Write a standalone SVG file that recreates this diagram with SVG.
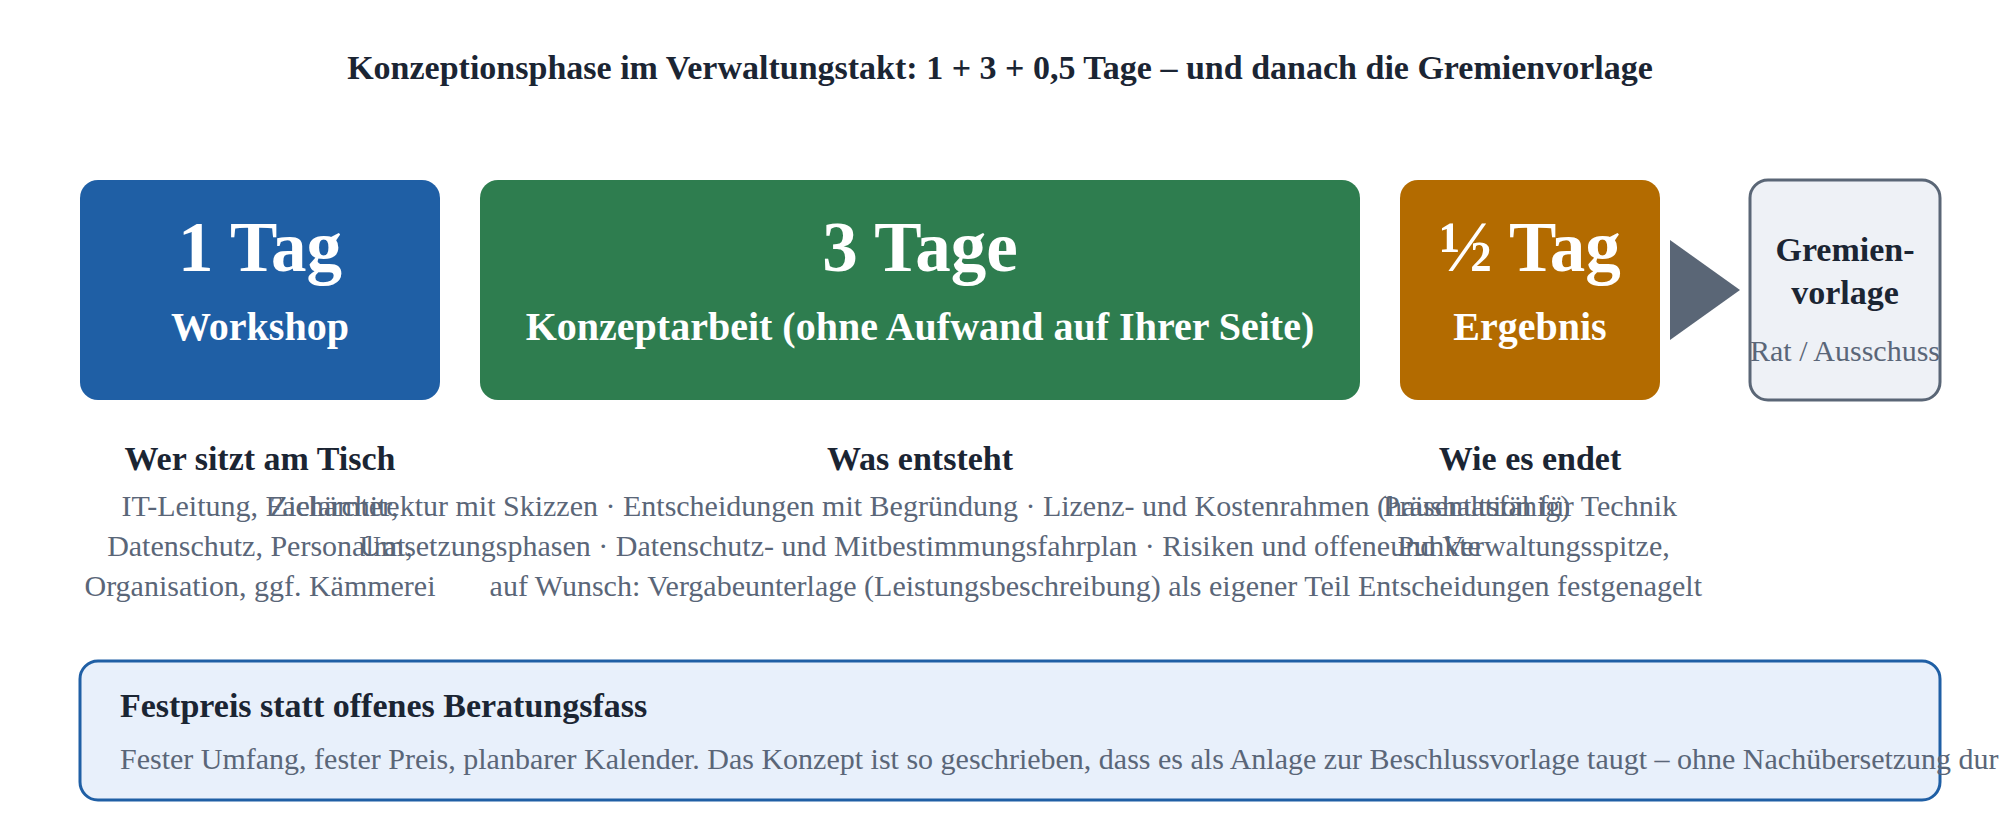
<svg xmlns="http://www.w3.org/2000/svg" width="2000" height="840" viewBox="0 0 2000 840">
<style>
text{font-family:"Liberation Serif","Times New Roman",serif}
.title{font-size:34px;font-weight:bold;fill:#1b2533;text-anchor:middle}
.big{font-size:71px;font-weight:bold;fill:#ffffff;text-anchor:middle}
.sub{font-size:40px;font-weight:bold;fill:#ffffff;text-anchor:middle}
.h{font-size:34px;font-weight:bold;fill:#1b2533;text-anchor:middle}
.b{font-size:30px;fill:#5a6678;text-anchor:middle}
.gv{font-size:34px;font-weight:bold;fill:#1b2533;text-anchor:middle}
.gs{font-size:30px;fill:#5a6678;text-anchor:middle}
</style>
<rect width="2000" height="840" fill="#ffffff"/>
<text class="title" x="1000" y="79">Konzeptionsphase im Verwaltungstakt: 1 + 3 + 0,5 Tage – und danach die Gremienvorlage</text>
<g id="workshop">
<rect x="80" y="180" width="360" height="220" rx="18" fill="#1f5fa5"/>
<text class="big" x="260" y="271">1 Tag</text>
<text class="sub" x="260" y="340">Workshop</text>
</g>
<g id="konzept">
<rect x="480" y="180" width="880" height="220" rx="18" fill="#2e7d4f"/>
<text class="big" x="920" y="271">3 Tage</text>
<text class="sub" x="920" y="340">Konzeptarbeit (ohne Aufwand auf Ihrer Seite)</text>
</g>
<g id="ergebnis">
<rect x="1400" y="180" width="260" height="220" rx="18" fill="#b36b00"/>
<text class="big" x="1530" y="271">½ Tag</text>
<text class="sub" x="1530" y="340">Ergebnis</text>
</g>
<g id="connectors">
<polygon points="1670,240 1740,290 1670,340" fill="#5a6676"/>
</g>
<g id="gremienvorlage">
<rect x="1750" y="180" width="190" height="220" rx="18" fill="#eef1f6" stroke="#5a6676" stroke-width="3"/>
<text class="gv" x="1845" y="261">Gremien-</text>
<text class="gv" x="1845" y="304">vorlage</text>
<text class="gs" x="1845" y="361">Rat / Ausschuss</text>
</g>
<g id="wer">
<text class="h" x="260" y="470">Wer sitzt am Tisch</text>
<text class="b" x="260" y="516">IT-Leitung, Fachämter,</text>
<text class="b" x="260" y="556">Datenschutz, Personalrat,</text>
<text class="b" x="260" y="596">Organisation, ggf. Kämmerei</text>
</g>
<g id="was">
<text class="h" x="920" y="470">Was entsteht</text>
<text class="b" x="920" y="516">Zielarchitektur mit Skizzen · Entscheidungen mit Begründung · Lizenz- und Kostenrahmen (haushaltsfähig)</text>
<text class="b" x="920" y="556">Umsetzungsphasen · Datenschutz- und Mitbestimmungsfahrplan · Risiken und offene Punkte</text>
<text class="b" x="920" y="596">auf Wunsch: Vergabeunterlage (Leistungsbeschreibung) als eigener Teil</text>
</g>
<g id="wie">
<text class="h" x="1530" y="470">Wie es endet</text>
<text class="b" x="1530" y="516">Präsentation für Technik</text>
<text class="b" x="1530" y="556">und Verwaltungsspitze,</text>
<text class="b" x="1530" y="596">Entscheidungen festgenagelt</text>
</g>
<g id="festpreis">
<rect x="80" y="661" width="1860" height="139" rx="18" fill="#e8f0fb" stroke="#1f5fa5" stroke-width="3"/>
<text x="120" y="717" style="font-size:34px;font-weight:bold;fill:#1b2533">Festpreis statt offenes Beratungsfass</text>
<text x="120" y="769" style="font-size:30px;fill:#5a6678">Fester Umfang, fester Preis, planbarer Kalender. Das Konzept ist so geschrieben, dass es als Anlage zur Beschlussvorlage taugt – ohne Nachübersetzung dur</text>
</g>
</svg>
